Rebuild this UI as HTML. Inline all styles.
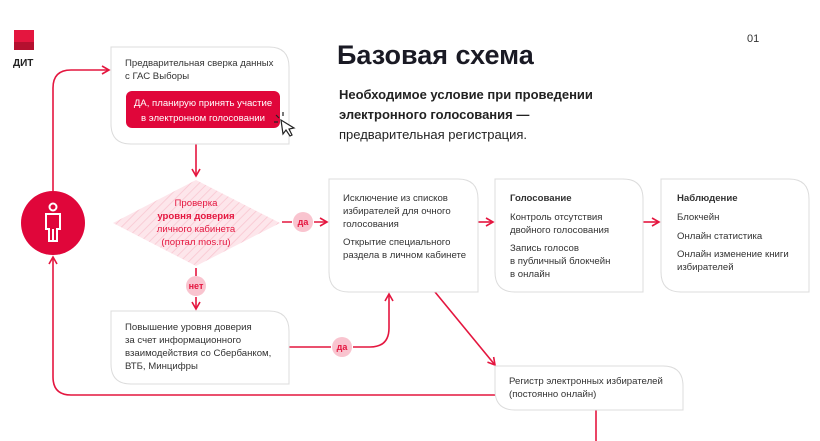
<!DOCTYPE html>
<html><head><meta charset="utf-8"><style>
html,body{margin:0;padding:0;background:#fff;}
svg{display:block;font-family:"Liberation Sans",sans-serif;}
</style></head><body>
<svg width="820" height="441" viewBox="0 0 820 441" xmlns="http://www.w3.org/2000/svg">
<defs>
<pattern id="hatch" patternUnits="userSpaceOnUse" width="6" height="6" patternTransform="rotate(45)">
<rect width="6" height="6" fill="#fde6eb"/><line x1="0" y1="0" x2="0" y2="6" stroke="#f9c6d1" stroke-width="1.6"/>
</pattern>
<marker id="ar" markerWidth="10" markerHeight="10" refX="8" refY="5" orient="auto" markerUnits="userSpaceOnUse">
<path d="M1,1 L8,5 L1,9" fill="none" stroke="#e4163f" stroke-width="1.6"/>
</marker>
</defs>
<rect x="14" y="30" width="20" height="20" fill="#e4163f"/>
<rect x="14" y="42" width="20" height="8" fill="#b5102f"/>
<text x="13" y="66" font-size="10" font-weight="bold" fill="#222">ДИТ</text>
<text x="747" y="42" font-size="11" fill="#333">01</text>
<text x="337" y="64" font-size="27" font-weight="bold" fill="#1a1a24">Базовая схема</text>
<text x="339" y="99" font-size="13" font-weight="bold" fill="#222">Необходимое условие при проведении</text>
<text x="339" y="119" font-size="13" font-weight="bold" fill="#222">электронного голосования  —</text>
<text x="339" y="139" font-size="13" fill="#222">предварительная регистрация.</text>

<g fill="none" stroke="#e4163f" stroke-width="1.6">
<path d="M53,191 V88 Q53,70 71,70 H109" marker-end="url(#ar)"/>
<path d="M495,395 H71 Q53,395 53,377 V257" marker-end="url(#ar)"/>
<path d="M196,144 V176" marker-end="url(#ar)"/>
<path d="M282,222 H292 M314,222 H327" marker-end="url(#ar)"/>
<path d="M196,268 V276 M196,297 V309" marker-end="url(#ar)"/>
<path d="M289,347 H331 M353,347 H370 Q389,347 389,328 V294" marker-end="url(#ar)"/>
<path d="M478,222 H493" marker-end="url(#ar)"/>
<path d="M643,222 H659" marker-end="url(#ar)"/>
<path d="M435,292 L495,365" marker-end="url(#ar)"/>
<path d="M596,410 V441"/>
</g>

<g fill="#fff" stroke="#dcdcdc" stroke-width="1">
<path d="M111,47 H269 Q289,47 289,67 V144 H131 Q111,144 111,124 Z"/>
<path d="M329,179 H458 Q478,179 478,199 V292 H349 Q329,292 329,272 Z"/>
<path d="M495,179 H623 Q643,179 643,199 V292 H515 Q495,292 495,272 Z"/>
<path d="M661,179 H789 Q809,179 809,199 V292 H681 Q661,292 661,272 Z"/>
<path d="M111,311 H269 Q289,311 289,331 V384 H131 Q111,384 111,364 Z"/>
<path d="M495,366 H663 Q683,366 683,386 V410 H515 Q495,410 495,390 Z"/>
</g>
<rect x="126" y="91" width="154" height="37" rx="6" fill="#e0063a"/>
<g font-size="9.6" fill="#333">
<text x="125" y="66">Предварительная сверка данных</text>
<text x="125" y="79">с ГАС Выборы</text>
<text x="203" y="106" fill="#fff" text-anchor="middle">ДА, планирую принять участие</text>
<text x="203" y="121" fill="#fff" text-anchor="middle">в электронном голосовании</text>
<text x="343" y="201">Исключение из списков</text>
<text x="343" y="214">избирателей для очного</text>
<text x="343" y="227">голосования</text>
<text x="343" y="245">Открытие специального</text>
<text x="343" y="258">раздела в личном кабинете</text>
<text x="510" y="201" font-weight="bold">Голосование</text>
<text x="510" y="220">Контроль отсутствия</text>
<text x="510" y="233">двойного голосования</text>
<text x="510" y="251">Запись голосов</text>
<text x="510" y="264">в публичный блокчейн</text>
<text x="510" y="277">в онлайн</text>
<text x="677" y="201" font-weight="bold">Наблюдение</text>
<text x="677" y="220">Блокчейн</text>
<text x="677" y="239">Онлайн статистика</text>
<text x="677" y="257">Онлайн изменение книги</text>
<text x="677" y="270">избирателей</text>
<text x="125" y="330">Повышение уровня доверия</text>
<text x="125" y="343">за счет информационного</text>
<text x="125" y="356">взаимодействия со Сбербанком,</text>
<text x="125" y="369">ВТБ, Минцифры</text>
<text x="509" y="384">Регистр электронных избирателей</text>
<text x="509" y="397">(постоянно онлайн)</text>
</g>
<path d="M281,120 L283,134 L286,130 L290,136 L292,135 L289,129 L294,128 Z" fill="#fff" stroke="#222" stroke-width="1.2"/>
<g stroke="#222" stroke-width="1.2"><line x1="276" y1="115" x2="279" y2="118"/><line x1="283" y1="112" x2="283" y2="116"/><line x1="274" y1="122" x2="278" y2="122"/></g>

<polygon points="196,180 280,223 196,266 113,223" fill="url(#hatch)"/>
<g font-size="9.6" fill="#e4163f" text-anchor="middle">
<text x="196" y="206">Проверка</text>
<text x="196" y="219" font-weight="bold">уровня доверия</text>
<text x="196" y="232">личного кабинета</text>
<text x="196" y="245">(портал mos.ru)</text>
</g>
<g fill="#f9c4cf"><circle cx="303" cy="222" r="10"/><circle cx="196" cy="286" r="10"/><circle cx="342" cy="347" r="10"/></g>
<g font-size="9" font-weight="bold" fill="#e4163f" text-anchor="middle">
<text x="303" y="225">да</text><text x="196" y="289">нет</text><text x="342" y="350">да</text>
</g>
<circle cx="53" cy="223" r="32" fill="#e0063a"/>
<g fill="none" stroke="#fff" stroke-width="2">
<circle cx="53" cy="207" r="3.5"/>
<path d="M46,214 H60 V229 H57 V241 H49 V229 H46 Z"/>
<line x1="53" y1="229" x2="53" y2="241"/>
</g>
</svg>
</body></html>
